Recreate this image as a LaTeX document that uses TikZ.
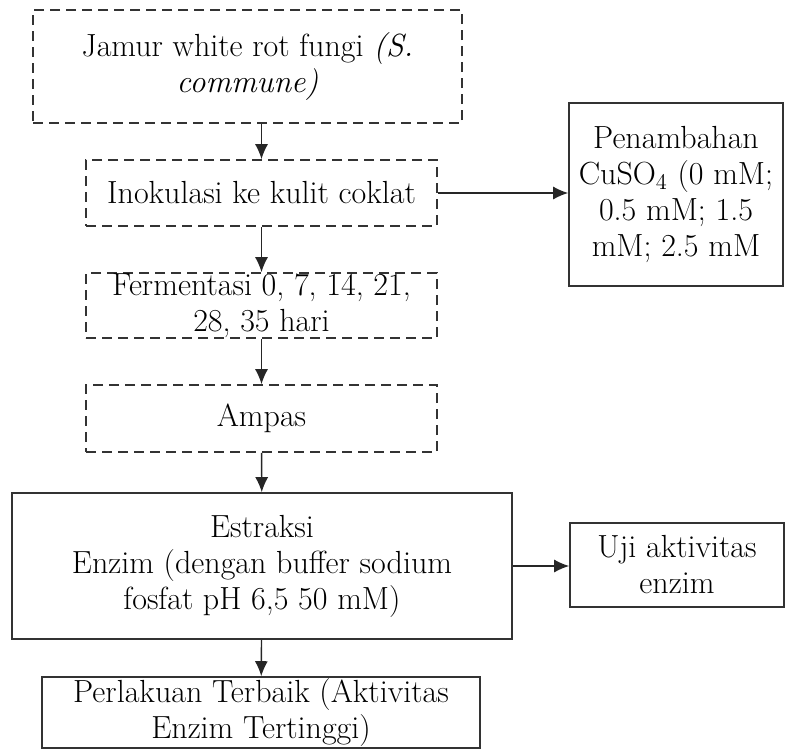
\documentclass[tikz,border=0pt]{standalone}
\usetikzlibrary{arrows.meta}

\tikzset{
  box/.style={draw=black!80, line width=0.8pt, align=center, inner sep=0pt,
    font=\fontsize{16}{18}\selectfont},
  dbox/.style={box, dash pattern=on 5pt off 3pt},
  flow/.style={-{Latex[length=7.5pt,width=6.5pt]}, line width=0.7pt, black!85}
}

\begin{document}
\begin{tikzpicture}[x=0.5pt, y=-0.5pt]
\useasboundingbox (0,0) rectangle (786,751);

% main line
\node[dbox, minimum width=429*0.5pt, minimum height=113*0.5pt] (jamur) at (247.5,66.5)
  {Jamur white rot fungi \textit{(S.}\\ \textit{commune)}};
\node[dbox, minimum width=351*0.5pt, minimum height=66*0.5pt] (inok) at (261.5,193)
  {Inokulasi ke kulit coklat};
\node[dbox, minimum width=351*0.5pt, minimum height=65*0.5pt] (ferm) at (261.5,305.5)
  {Fermentasi 0, 7, 14, 21,\\ 28, 35 hari};
\node[dbox, minimum width=351*0.5pt, minimum height=67*0.5pt] (ampas) at (261.5,418.5)
  {Ampas};
\node[box, minimum width=500*0.5pt, minimum height=146*0.5pt] (estr) at (262,566)
  {Estraksi\\ Enzim (dengan buffer sodium\\ fosfat pH 6,5 50 mM)};
\node[box, minimum width=438*0.5pt, minimum height=71*0.5pt] (perl) at (261,712.5)
  {Perlakuan Terbaik (Aktivitas\\ Enzim Tertinggi)};

% side boxes
\node[box, minimum width=214*0.5pt, minimum height=183*0.5pt] (cuso) at (676,194.5)
  {Penambahan\\ CuSO\textsubscript{4} (0 mM;\\ 0.5 mM; 1.5\\ mM; 2.5 mM};
\node[box, minimum width=214*0.5pt, minimum height=84*0.5pt] (uji) at (677,565)
  {Uji aktivitas\\ enzim};

\draw[flow] (inok.north |- jamur.south) -- (inok.north);
\draw[flow] (inok) -- (ferm);
\draw[flow] (ferm) -- (ampas);
\draw[flow] (ampas) -- (estr);
\draw[flow] (estr) -- (perl);
\draw[flow] (inok.east) -- (inok.east -| cuso.west);
\draw[flow] (estr.east) -- (estr.east -| uji.west);
\end{tikzpicture}
\end{document}
